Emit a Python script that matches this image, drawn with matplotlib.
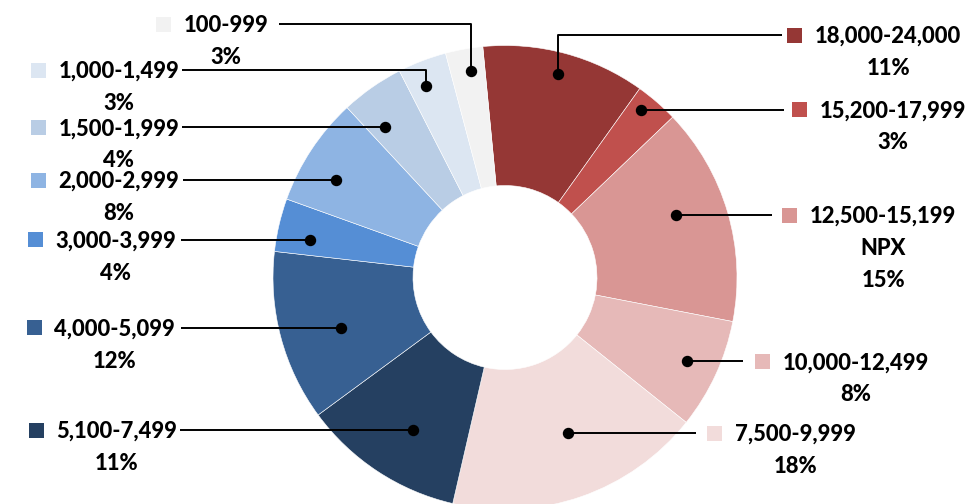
import numpy as np
import matplotlib
matplotlib.use('Agg')
import matplotlib.pyplot as plt
from matplotlib.patches import Rectangle
from matplotlib import font_manager as fm

# ---- data ----
categories = ['18,000-24,000', '15,200-17,999', '12,500-15,199', '10,000-12,499',
              '7,500-9,999', '5,100-7,499', '4,000-5,099', '3,000-3,999',
              '2,000-2,999', '1,500-1,999', '1,000-1,499', '100-999']
shares = [11.4, 3.0, 15.2, 7.7, 17.9, 11.3, 11.9, 3.7, 7.6, 4.4, 3.4, 2.6]
notes = ['', '', 'NPX', '', '', '', '', '', '', '', '', '']
colors = ['#953735', '#C0504D', '#D99694', '#E6B9B8', '#F2DCDB', '#254061',
          '#376092', '#558ED5', '#8EB4E3', '#B9CDE5', '#DCE6F2', '#F2F2F2']

# ---- layout (pixels) ----
W, H = 969, 504
side = ['R', 'R', 'R', 'R', 'R', 'L', 'L', 'L', 'L', 'L', 'L', 'L']
dot_dtheta = [-0.4, -1.9, -3.65, 0, -2.9, -2.4, -2.1, -2.15, -3.45, -3.6, -1.4, 0.8]
dot_r = [210, 216, 182, 200, 168, 178, 172, 199, 195, 192, 207, 209]
line_x = [782, 784, 772, 743, 696, 180, 181, 181, 183, 182, 182, 279]
elbow_y = [35, None, None, None, None, None, None, None, None, None, 70, 24]
text_gap = [33, 36, 38, 40, 39, 3, 6, 5, 4, 3, 3, 11]

lato_weights = {f.weight for f in fm.fontManager.ttflist if f.name == 'Lato'}
heavy = 900 if any(isinstance(w, int) and w >= 800 for w in lato_weights) else 'bold'

FS = 15.8
FONT = dict(family=['Lato', 'DejaVu Sans'], weight=heavy, size=FS, color='black')
cap = 0.7165 * FS * 100 / 72.0
LINE_STEP = 32

fig = plt.figure(figsize=(W / 100, H / 100), dpi=100)
ax = fig.add_axes([0, 0, 1, 1])
cx, cy = 505, H - 277.5
R_out, R_in = 232, 92
wedges, _ = ax.pie(shares, colors=colors, startangle=95.5, counterclock=False,
                   radius=R_out, center=(cx, cy),
                   wedgeprops=dict(width=R_out - R_in, edgecolor='white', linewidth=0.4))
ax.set_xlim(0, W)
ax.set_ylim(0, H)
ax.set_aspect('equal')
ax.axis('off')

renderer = fig.canvas.get_renderer()

for i, w in enumerate(wedges):
    mid = (w.theta1 + w.theta2) / 2.0 - dot_dtheta[i]
    dx = cx + dot_r[i] * np.cos(np.radians(mid))
    dy = cy + dot_r[i] * np.sin(np.radians(mid))
    if elbow_y[i] is None:
        ly = dy
        xs, ys = [dx, line_x[i]], [dy, dy]
    else:
        ly = H - elbow_y[i]
        xs, ys = [dx, dx, line_x[i]], [dy, ly, ly]
    ax.plot(xs, ys, color='black', lw=1.4, solid_capstyle='butt', zorder=5)
    ax.plot([dx], [dy], 'o', color='black', ms=7.2, zorder=6)

    base = ly - cap / 2.0
    if side[i] == 'R':
        sq_x = line_x[i] + text_gap[i] - 28
        t = ax.text(line_x[i] + text_gap[i], base, categories[i], ha='left', va='baseline', **FONT)
    else:
        t = ax.text(line_x[i] - text_gap[i], base, categories[i], ha='right', va='baseline', **FONT)
    bb = t.get_window_extent(renderer)
    if side[i] == 'L':
        sq_x = bb.x0 - 12 - 15
    ax.add_patch(Rectangle((sq_x, ly - 7.5), 15, 15, facecolor=colors[i],
                           edgecolor='none', zorder=5))
    tc = (bb.x0 + bb.x1) / 2.0
    lines = [n for n in [notes[i]] if n] + [f"{round(shares[i])}%"]
    for k, s in enumerate(lines):
        ax.text(tc, base - LINE_STEP * (k + 1), s, ha='center', va='baseline', **FONT)

fig.savefig('out.png', dpi=100)
